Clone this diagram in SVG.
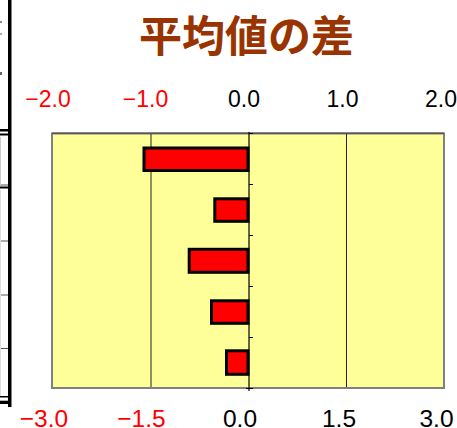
<svg xmlns="http://www.w3.org/2000/svg" width="457" height="428" viewBox="0 0 457 428">
<style>
.title{font-family:"Noto Sans CJK JP","Noto Sans CJK SC",sans-serif;font-weight:bold;font-size:43px;fill:#993300}
.tl{font-family:"Liberation Sans",Arial,sans-serif;font-size:23px;text-anchor:middle}
.bl{font-family:"Liberation Sans",Arial,sans-serif;font-size:24.5px;text-anchor:middle}
.neg{fill:#ff0000}
.pos{fill:#000000}
.bar{fill:#ff0000;stroke:#000;stroke-width:3;stroke-linejoin:miter}
.grid{stroke:#222;stroke-width:1}
.blk{fill:#000}
.thin{stroke:#555;stroke-width:1}
</style>
<rect width="457" height="428" fill="#fff"/>
<g id="left-edge">
  <rect class="blk" x="8" y="0" width="3.5" height="407"/>
  <rect class="blk" x="0" y="129" width="8" height="2.5"/>
  <rect class="blk" x="0" y="133.5" width="8" height="2"/>
  <line class="thin" x1="0" y1="185" x2="8" y2="185" stroke="#888"/>
  <rect class="blk" x="0" y="186.5" width="8" height="2"/>
  <line class="thin" x1="0" y1="241" x2="8" y2="241"/>
  <line class="thin" x1="0" y1="295" x2="8" y2="295"/>
  <line class="thin" x1="0" y1="348.5" x2="8" y2="348.5"/>
  <rect class="blk" x="0" y="396" width="8" height="1.5"/>
  <rect class="blk" x="0" y="400.7" width="8" height="3.3"/>
  <line x1="0.5" y1="137" x2="0.5" y2="185" stroke="#ccc" stroke-width="1"/>
  <line x1="0.5" y1="190" x2="0.5" y2="396" stroke="#ddd" stroke-width="1"/>
  <rect x="0" y="21" width="2" height="2" fill="#888"/>
  <rect x="0" y="33" width="2" height="2" fill="#aaa"/>
  <rect x="0" y="72" width="2" height="3" fill="#666"/>
</g>
<g id="title">
  <text class="title" x="246.5" y="52" text-anchor="middle">平均値の差</text>
</g>
<g id="top-axis">
  <text class="tl neg" x="48" y="106.5">−2.0</text>
  <text class="tl neg" x="145.5" y="106.5">−1.0</text>
  <text class="tl pos" x="244" y="106.5">0.0</text>
  <text class="tl pos" x="342.5" y="106.5">1.0</text>
  <text class="tl pos" x="441" y="106.5">2.0</text>
</g>
<g id="plot">
  <rect x="52" y="133.5" width="392" height="254.5" fill="#ffff99" stroke="#808080" stroke-width="2"/>
  <line x1="52" y1="133.3" x2="444" y2="133.3" stroke="#555" stroke-width="1.5"/>
  <line class="grid" x1="151" y1="134" x2="151" y2="387"/>
  <line class="grid" x1="346.5" y1="134" x2="346.5" y2="387"/>
</g>
<g id="connectors">
  <line x1="249" y1="132" x2="249" y2="391" stroke="#000" stroke-width="1.2"/>
  <line x1="249" y1="133.5" x2="253" y2="133.5" stroke="#000" stroke-width="1"/>
  <line x1="249" y1="184.5" x2="253" y2="184.5" stroke="#000" stroke-width="1"/>
  <line x1="249" y1="235.5" x2="253" y2="235.5" stroke="#000" stroke-width="1"/>
  <line x1="249" y1="286.5" x2="253" y2="286.5" stroke="#000" stroke-width="1"/>
  <line x1="249" y1="337.5" x2="253" y2="337.5" stroke="#000" stroke-width="1"/>
  <line x1="246" y1="388.5" x2="253" y2="388.5" stroke="#000" stroke-width="1"/>
</g>
<g id="bar1"><rect class="bar" x="144" y="148" width="104" height="22.5"/></g>
<g id="bar2"><rect class="bar" x="214.8" y="198.8" width="33.2" height="22.5"/></g>
<g id="bar3"><rect class="bar" x="189.2" y="249.3" width="58.8" height="23"/></g>
<g id="bar4"><rect class="bar" x="211.5" y="300.8" width="36.5" height="22.5"/></g>
<g id="bar5"><rect class="bar" x="226.5" y="350.8" width="21.5" height="23.5"/></g>
<g id="bottom-axis">
  <text class="bl neg" x="44" y="427">−3.0</text>
  <text class="bl neg" x="141.5" y="427">−1.5</text>
  <text class="bl pos" x="240" y="427">0.0</text>
  <text class="bl pos" x="339" y="427">1.5</text>
  <text class="bl pos" x="436.5" y="427">3.0</text>
</g>
</svg>
